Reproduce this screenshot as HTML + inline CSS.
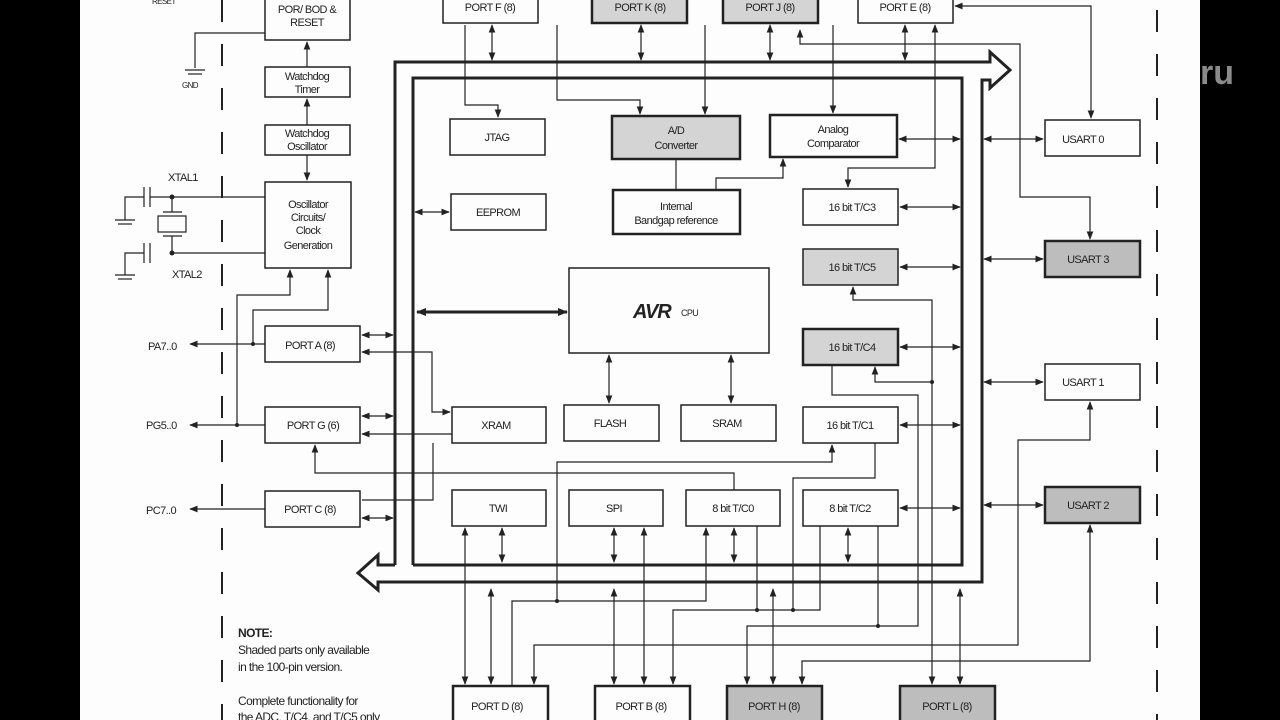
<!DOCTYPE html>
<html><head><meta charset="utf-8"><style>
html,body{margin:0;padding:0;background:#000;}
svg{display:block}
text{font-family:"Liberation Sans",sans-serif;font-size:11px;fill:#222;letter-spacing:-0.6px}
</style></head><body>
<svg width="1280" height="720" viewBox="0 0 1280 720" xmlns="http://www.w3.org/2000/svg">
<defs>
<marker id="a" viewBox="0 0 10 10" refX="9" refY="5" markerWidth="7" markerHeight="7" orient="auto-start-reverse"><path d="M0,1 L10,5 L0,9 z" fill="#222"/></marker>
<marker id="b" viewBox="0 0 10 10" refX="9" refY="5" markerWidth="10" markerHeight="10" markerUnits="userSpaceOnUse" orient="auto-start-reverse"><path d="M0,1 L10,5 L0,9 z" fill="#222"/></marker>
</defs>
<rect x="0" y="0" width="1280" height="720" fill="#000"/>
<rect x="80" y="0" width="1120" height="720" fill="#fdfdfd"/>
<text x="1200" y="84" style="font-size:34px;font-weight:bold;fill:#8a8a8a;letter-spacing:0">ru</text>
<line x1="222" y1="0" x2="222" y2="720" stroke="#222" stroke-width="2" stroke-dasharray="22,22"/>
<line x1="1157" y1="10" x2="1157" y2="720" stroke="#222" stroke-width="2" stroke-dasharray="22,22"/>
<g fill="none" stroke="#222" stroke-width="3">
<polyline points="413,565 413,78 962,78 962,565 413,565"/>
<polyline points="395,565 395,62 990,62 990,52 1010,70 990,88 990,80 982,80 982,582 378,582 378,590 358,573 378,555 378,565 395,565"/>
</g>
<g fill="none" stroke="#222" stroke-width="1.5">
<rect x="265" y="-5" width="85" height="45"/>
<rect x="265" y="67" width="85" height="30"/>
<rect x="265" y="125" width="85" height="30"/>
<rect x="265" y="182" width="86" height="86"/>
<rect x="265" y="326" width="95" height="36"/>
<rect x="265" y="407" width="95" height="36"/>
<rect x="265" y="491" width="95" height="36"/>
<rect x="443" y="-5" width="95" height="28"/>
<rect x="858" y="-5" width="95" height="28"/>
<rect x="450" y="119" width="95" height="36"/>
<rect x="770" y="115" width="127" height="42" stroke-width="2.5"/>
<rect x="451" y="194" width="95" height="36"/>
<rect x="613" y="190" width="127" height="44" stroke-width="2.5"/>
<rect x="803" y="189" width="95" height="36"/>
<rect x="569" y="268" width="200" height="85"/>
<rect x="452" y="407" width="94" height="36"/>
<rect x="564" y="405" width="95" height="36"/>
<rect x="681" y="405" width="95" height="36"/>
<rect x="803" y="407" width="95" height="36"/>
<rect x="452" y="490" width="94" height="36"/>
<rect x="569" y="490" width="94" height="36"/>
<rect x="686" y="490" width="94" height="36"/>
<rect x="803" y="490" width="95" height="36"/>
<rect x="1045" y="120" width="95" height="36"/>
<rect x="1045" y="364" width="95" height="36"/>
<rect x="453" y="686" width="95" height="40" stroke-width="2.5"/>
<rect x="595" y="686" width="95" height="40" stroke-width="2.5"/>
</g>
<g fill="#d4d4d4" stroke="#222" stroke-width="2.5">
<rect x="592" y="-5" width="95" height="28"/>
<rect x="723" y="-5" width="95" height="28"/>
<rect x="612" y="116" width="128" height="43"/>
<rect x="803" y="249" width="95" height="36" stroke-width="1.5"/>
<rect x="803" y="329" width="95" height="36"/>
<rect x="1045" y="241" width="95" height="36" fill="#bdbdbd"/>
<rect x="1045" y="487" width="95" height="36" fill="#bdbdbd"/>
<rect x="727" y="686" width="95" height="40" fill="#bdbdbd"/>
<rect x="900" y="686" width="95" height="40" fill="#bdbdbd"/>
</g>
<g fill="none" stroke="#222" stroke-width="1.2">
<line x1="307" y1="67" x2="307" y2="42" marker-end="url(#a)"/>
<line x1="307" y1="125" x2="307" y2="99" marker-end="url(#a)"/>
<line x1="307" y1="155" x2="307" y2="180" marker-end="url(#a)"/>
<polyline points="265,33 195,33 195,68"/>
<line x1="185" y1="70" x2="205" y2="70"/><line x1="188" y1="74" x2="202" y2="74"/>
<polyline points="265,197 172,197"/><polyline points="265,253 172,253"/>
<rect x="158" y="216" width="28" height="16"/>
<line x1="172" y1="197" x2="172" y2="212"/><line x1="172" y1="236" x2="172" y2="253"/>
<line x1="163" y1="212" x2="182" y2="212"/><line x1="163" y1="236" x2="182" y2="236"/>
<line x1="150" y1="187" x2="150" y2="207"/><line x1="144" y1="187" x2="144" y2="207"/>
<polyline points="150,197 172,197"/><polyline points="144,197 125,197 125,220"/>
<line x1="150" y1="243" x2="150" y2="263"/><line x1="144" y1="243" x2="144" y2="263"/>
<polyline points="144,253 125,253 125,275"/>
<line x1="115" y1="220" x2="135" y2="220"/><line x1="118" y1="224" x2="132" y2="224"/>
<line x1="115" y1="275" x2="135" y2="275"/><line x1="118" y1="279" x2="132" y2="279"/>
<line x1="265" y1="344" x2="190" y2="344" marker-end="url(#a)"/>
<line x1="265" y1="425" x2="190" y2="425" marker-end="url(#a)"/>
<line x1="265" y1="509" x2="190" y2="509" marker-end="url(#a)"/>
<polyline points="237,425 237,295 290,295 290,270" marker-end="url(#a)"/>
<polyline points="253,344 253,310 328,310 328,270" marker-end="url(#a)"/>
<line x1="362" y1="335" x2="393" y2="335" marker-start="url(#a)" marker-end="url(#a)"/>
<line x1="362" y1="416" x2="393" y2="416" marker-start="url(#a)" marker-end="url(#a)"/>
<line x1="362" y1="518" x2="393" y2="518" marker-start="url(#a)" marker-end="url(#a)"/>
<polyline points="362,352 432,352 432,412 450,412" marker-start="url(#a)" marker-end="url(#a)"/>
<polyline points="362,434 452,434" marker-start="url(#a)"/>
<polyline points="362,500 433,500 433,443"/>
<line x1="415" y1="212" x2="449" y2="212" marker-start="url(#a)" marker-end="url(#a)"/>
<line x1="417" y1="312" x2="567" y2="312" stroke-width="3" marker-start="url(#b)" marker-end="url(#b)"/>
<line x1="609" y1="355" x2="609" y2="403" marker-start="url(#a)" marker-end="url(#a)"/>
<line x1="731" y1="355" x2="731" y2="403" marker-start="url(#a)" marker-end="url(#a)"/>
<polyline points="315,445 315,473 734,473 734,490" marker-start="url(#a)"/>
<polyline points="557,601 557,462 832,462 832,445" marker-end="url(#a)"/>
<polyline points="465,25 465,105 498,105 498,117" marker-end="url(#a)"/>
<line x1="492" y1="25" x2="492" y2="60" marker-start="url(#a)" marker-end="url(#a)"/>
<polyline points="557,25 557,100 640,100 640,114" marker-end="url(#a)"/>
<line x1="705" y1="25" x2="705" y2="114" marker-end="url(#a)"/>
<line x1="641" y1="25" x2="641" y2="60" marker-start="url(#a)" marker-end="url(#a)"/>
<line x1="770" y1="25" x2="770" y2="60" marker-start="url(#a)" marker-end="url(#a)"/>
<line x1="905" y1="25" x2="905" y2="60" marker-start="url(#a)" marker-end="url(#a)"/>
<polyline points="935,25 935,168 848,168 848,187" marker-start="url(#a)" marker-end="url(#a)"/>
<line x1="833" y1="25" x2="833" y2="113" marker-end="url(#a)"/>
<polyline points="955,6 1091,6 1091,118" marker-start="url(#a)" marker-end="url(#a)"/>
<polyline points="800,30 800,44 1020,44 1020,197 1090,197 1090,239" marker-start="url(#a)" marker-end="url(#a)"/>
<line x1="676" y1="159" x2="676" y2="190"/>
<polyline points="716,190 716,178 783,178 783,159" marker-end="url(#a)"/>
<line x1="899" y1="139" x2="960" y2="139" marker-start="url(#a)" marker-end="url(#a)"/>
<line x1="900" y1="207" x2="960" y2="207" marker-start="url(#a)" marker-end="url(#a)"/>
<line x1="900" y1="267" x2="960" y2="267" marker-start="url(#a)" marker-end="url(#a)"/>
<line x1="900" y1="347" x2="960" y2="347" marker-start="url(#a)" marker-end="url(#a)"/>
<line x1="900" y1="425" x2="960" y2="425" marker-start="url(#a)" marker-end="url(#a)"/>
<line x1="900" y1="508" x2="960" y2="508" marker-start="url(#a)" marker-end="url(#a)"/>
<line x1="984" y1="139" x2="1043" y2="139" marker-start="url(#a)" marker-end="url(#a)"/>
<line x1="984" y1="259" x2="1043" y2="259" marker-start="url(#a)" marker-end="url(#a)"/>
<line x1="984" y1="382" x2="1043" y2="382" marker-start="url(#a)" marker-end="url(#a)"/>
<line x1="984" y1="505" x2="1043" y2="505" marker-start="url(#a)" marker-end="url(#a)"/>
<polyline points="853,287 853,300 932,300 932,684" marker-start="url(#a)" marker-end="url(#a)"/>
<polyline points="875,367 875,382 932,382" marker-start="url(#a)"/>
<polyline points="832,365 832,395 918,395 918,626 747,626 747,684" marker-end="url(#a)"/>
<polyline points="875,443 875,478 793,478 793,610"/>
<polyline points="465,528 465,684" marker-start="url(#a)" marker-end="url(#a)"/>
<line x1="502" y1="528" x2="502" y2="562" marker-start="url(#a)" marker-end="url(#a)"/>
<line x1="491" y1="589" x2="491" y2="684" marker-start="url(#a)" marker-end="url(#a)"/>
<polyline points="512,686 512,601 706,601 706,528" marker-end="url(#a)"/>
<polyline points="534,684 534,645 1018,645 1018,440 1090,440 1090,402" marker-start="url(#a)" marker-end="url(#a)"/>
<line x1="614" y1="528" x2="614" y2="562" marker-start="url(#a)" marker-end="url(#a)"/>
<line x1="644" y1="528" x2="644" y2="684" marker-start="url(#a)" marker-end="url(#a)"/>
<line x1="614" y1="589" x2="614" y2="684" marker-start="url(#a)" marker-end="url(#a)"/>
<polyline points="673,684 673,610 820,610 820,526" marker-start="url(#a)"/>
<line x1="734" y1="528" x2="734" y2="562" marker-start="url(#a)" marker-end="url(#a)"/>
<polyline points="757,526 757,610"/>
<line x1="773" y1="589" x2="773" y2="684" marker-start="url(#a)" marker-end="url(#a)"/>
<polyline points="802,684 802,661 1090,661 1090,525" marker-start="url(#a)" marker-end="url(#a)"/>
<line x1="848" y1="528" x2="848" y2="562" marker-start="url(#a)" marker-end="url(#a)"/>
<polyline points="878,526 878,626"/>
<line x1="960" y1="589" x2="960" y2="684" marker-start="url(#a)" marker-end="url(#a)"/>
</g>
<g fill="#222">
<circle cx="237" cy="425" r="2"/><circle cx="253" cy="344" r="2"/><circle cx="172" cy="197" r="2.5"/><circle cx="172" cy="253" r="2.5"/>
<circle cx="932" cy="382" r="2"/><circle cx="557" cy="601" r="2"/><circle cx="793" cy="610" r="2"/><circle cx="757" cy="610" r="2"/><circle cx="878" cy="626" r="2"/>
</g>
<g text-anchor="middle">
<text x="307" y="13">POR/ BOD &amp;</text><text x="307" y="26">RESET</text>
<text x="307" y="80">Watchdog</text><text x="307" y="93">Timer</text>
<text x="307" y="137">Watchdog</text><text x="307" y="150">Oscillator</text>
<text x="308" y="208">Oscillator</text><text x="308" y="221">Circuits/</text><text x="308" y="234">Clock</text><text x="308" y="249">Generation</text>
<text x="310" y="349">PORT A (8)</text><text x="313" y="429">PORT G (6)</text><text x="310" y="513">PORT C (8)</text>
<text x="490" y="11">PORT F (8)</text><text x="640" y="11">PORT K (8)</text><text x="770" y="11">PORT J (8)</text><text x="905" y="11">PORT E (8)</text>
<text x="497" y="141">JTAG</text>
<text x="676" y="134">A/D</text><text x="676" y="149">Converter</text>
<text x="833" y="133">Analog</text><text x="833" y="147">Comparator</text>
<text x="498" y="216">EEPROM</text>
<text x="676" y="210">Internal</text><text x="676" y="224">Bandgap reference</text>
<text x="852" y="211">16 bit T/C3</text><text x="852" y="271">16 bit T/C5</text><text x="852" y="351">16 bit T/C4</text><text x="850" y="429">16 bit T/C1</text>
<text x="496" y="429">XRAM</text><text x="610" y="427">FLASH</text><text x="727" y="427">SRAM</text>
<text x="498" y="512">TWI</text><text x="614" y="512">SPI</text><text x="733" y="512">8 bit T/C0</text><text x="850" y="512">8 bit T/C2</text>
<text x="1083" y="143">USART 0</text><text x="1088" y="263">USART 3</text><text x="1083" y="386">USART 1</text><text x="1088" y="509">USART 2</text>
<text x="497" y="710">PORT D (8)</text><text x="641" y="710">PORT B (8)</text><text x="774" y="710">PORT H (8)</text><text x="947" y="710">PORT L (8)</text>
</g>
<text x="633" y="318" style="font-size:20px;font-weight:bold;font-style:italic;letter-spacing:-1px">AVR</text>
<text x="681" y="316" style="font-size:9px">CPU</text>
<text x="168" y="181">XTAL1</text><text x="172" y="278">XTAL2</text>
<text x="182" y="88" style="font-size:8px">GND</text>
<text x="152" y="4" style="font-size:8px">RESET</text>
<text x="148" y="350">PA7..0</text><text x="146" y="429">PG5..0</text><text x="146" y="514">PC7..0</text>
<text x="238" y="637" style="font-size:12px;font-weight:bold">NOTE:</text>
<text x="238" y="654" style="font-size:12px">Shaded parts only available</text>
<text x="238" y="671" style="font-size:12px">in the 100-pin version.</text>
<text x="238" y="705" style="font-size:12px">Complete functionality for</text>
<text x="238" y="721" style="font-size:12px">the ADC, T/C4, and T/C5 only</text>
</svg>
</body></html>
